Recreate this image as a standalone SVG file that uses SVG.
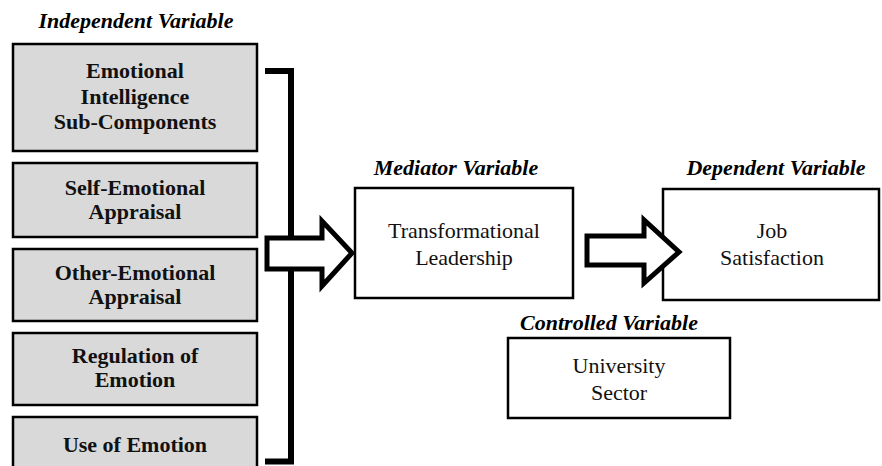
<svg xmlns="http://www.w3.org/2000/svg" width="882" height="466" viewBox="0 0 882 466">
<style>
.iv{fill:#d9d9d9;stroke:#000;stroke-width:2.5}
.bx{fill:#fff;stroke:#000;stroke-width:2.5}
.br{fill:none;stroke:#000;stroke-width:6}
.ar{fill:#fff;stroke:#000;stroke-width:5;stroke-linejoin:miter}
</style>
<rect width="882" height="466" fill="#fff"/>
<g id="labels" text-anchor="middle" fill="#000" font-family="'Liberation Serif', 'Times New Roman', serif" font-weight="bold" font-style="italic" font-size="22">
<text x="136" y="28">Independent Variable</text>
<text x="456" y="175">Mediator Variable</text>
<text x="776" y="175">Dependent Variable</text>
<text x="609" y="330">Controlled Variable</text>
</g>
<g id="n-ei" text-anchor="middle" fill="#111" font-family="'Liberation Serif', 'Times New Roman', serif" font-weight="bold" font-size="22">
<rect class="iv" x="13" y="44" width="244" height="107"/>
<text x="135" y="78">Emotional</text>
<text x="135" y="104">Intelligence</text>
<text x="135" y="129">Sub-Components</text>
</g>
<g id="n-sea" text-anchor="middle" fill="#111" font-family="'Liberation Serif', 'Times New Roman', serif" font-weight="bold" font-size="22">
<rect class="iv" x="13" y="163" width="244" height="74"/>
<text x="135" y="195">Self-Emotional</text>
<text x="135" y="219">Appraisal</text>
</g>
<g id="n-oea" text-anchor="middle" fill="#111" font-family="'Liberation Serif', 'Times New Roman', serif" font-weight="bold" font-size="22">
<rect class="iv" x="13" y="249" width="244" height="72"/>
<text x="135" y="280">Other-Emotional</text>
<text x="135" y="304">Appraisal</text>
</g>
<g id="n-roe" text-anchor="middle" fill="#111" font-family="'Liberation Serif', 'Times New Roman', serif" font-weight="bold" font-size="22">
<rect class="iv" x="13" y="333" width="244" height="72"/>
<text x="135" y="363">Regulation of</text>
<text x="135" y="387">Emotion</text>
</g>
<g id="n-uoe" text-anchor="middle" fill="#111" font-family="'Liberation Serif', 'Times New Roman', serif" font-weight="bold" font-size="22">
<rect class="iv" x="13" y="417" width="244" height="60"/>
<text x="135" y="452">Use of Emotion</text>
</g>
<g id="n-tl" text-anchor="middle" fill="#111" font-family="'Liberation Serif', 'Times New Roman', serif" font-size="22">
<rect class="bx" x="355" y="188" width="218" height="110"/>
<text x="464" y="238">Transformational</text>
<text x="464" y="265">Leadership</text>
</g>
<g id="n-js" text-anchor="middle" fill="#111" font-family="'Liberation Serif', 'Times New Roman', serif" font-size="22">
<rect class="bx" x="663" y="189" width="216" height="111"/>
<text x="772" y="238">Job</text>
<text x="772" y="265">Satisfaction</text>
</g>
<g id="n-us" text-anchor="middle" fill="#111" font-family="'Liberation Serif', 'Times New Roman', serif" font-size="22">
<rect class="bx" x="508" y="338" width="222" height="80"/>
<text x="619" y="373">University</text>
<text x="619" y="400">Sector</text>
</g>
<g id="connectors">
<path class="br" d="M265 71 H291 V461.5 H265"/>
<path class="ar" d="M267 238 H322 V221 L352 253 L322 286 V269 H267 Z"/>
<path class="ar" d="M587 236 H644 V220 L679 252 L644 283 V265 H587 Z"/>
</g>
</svg>
